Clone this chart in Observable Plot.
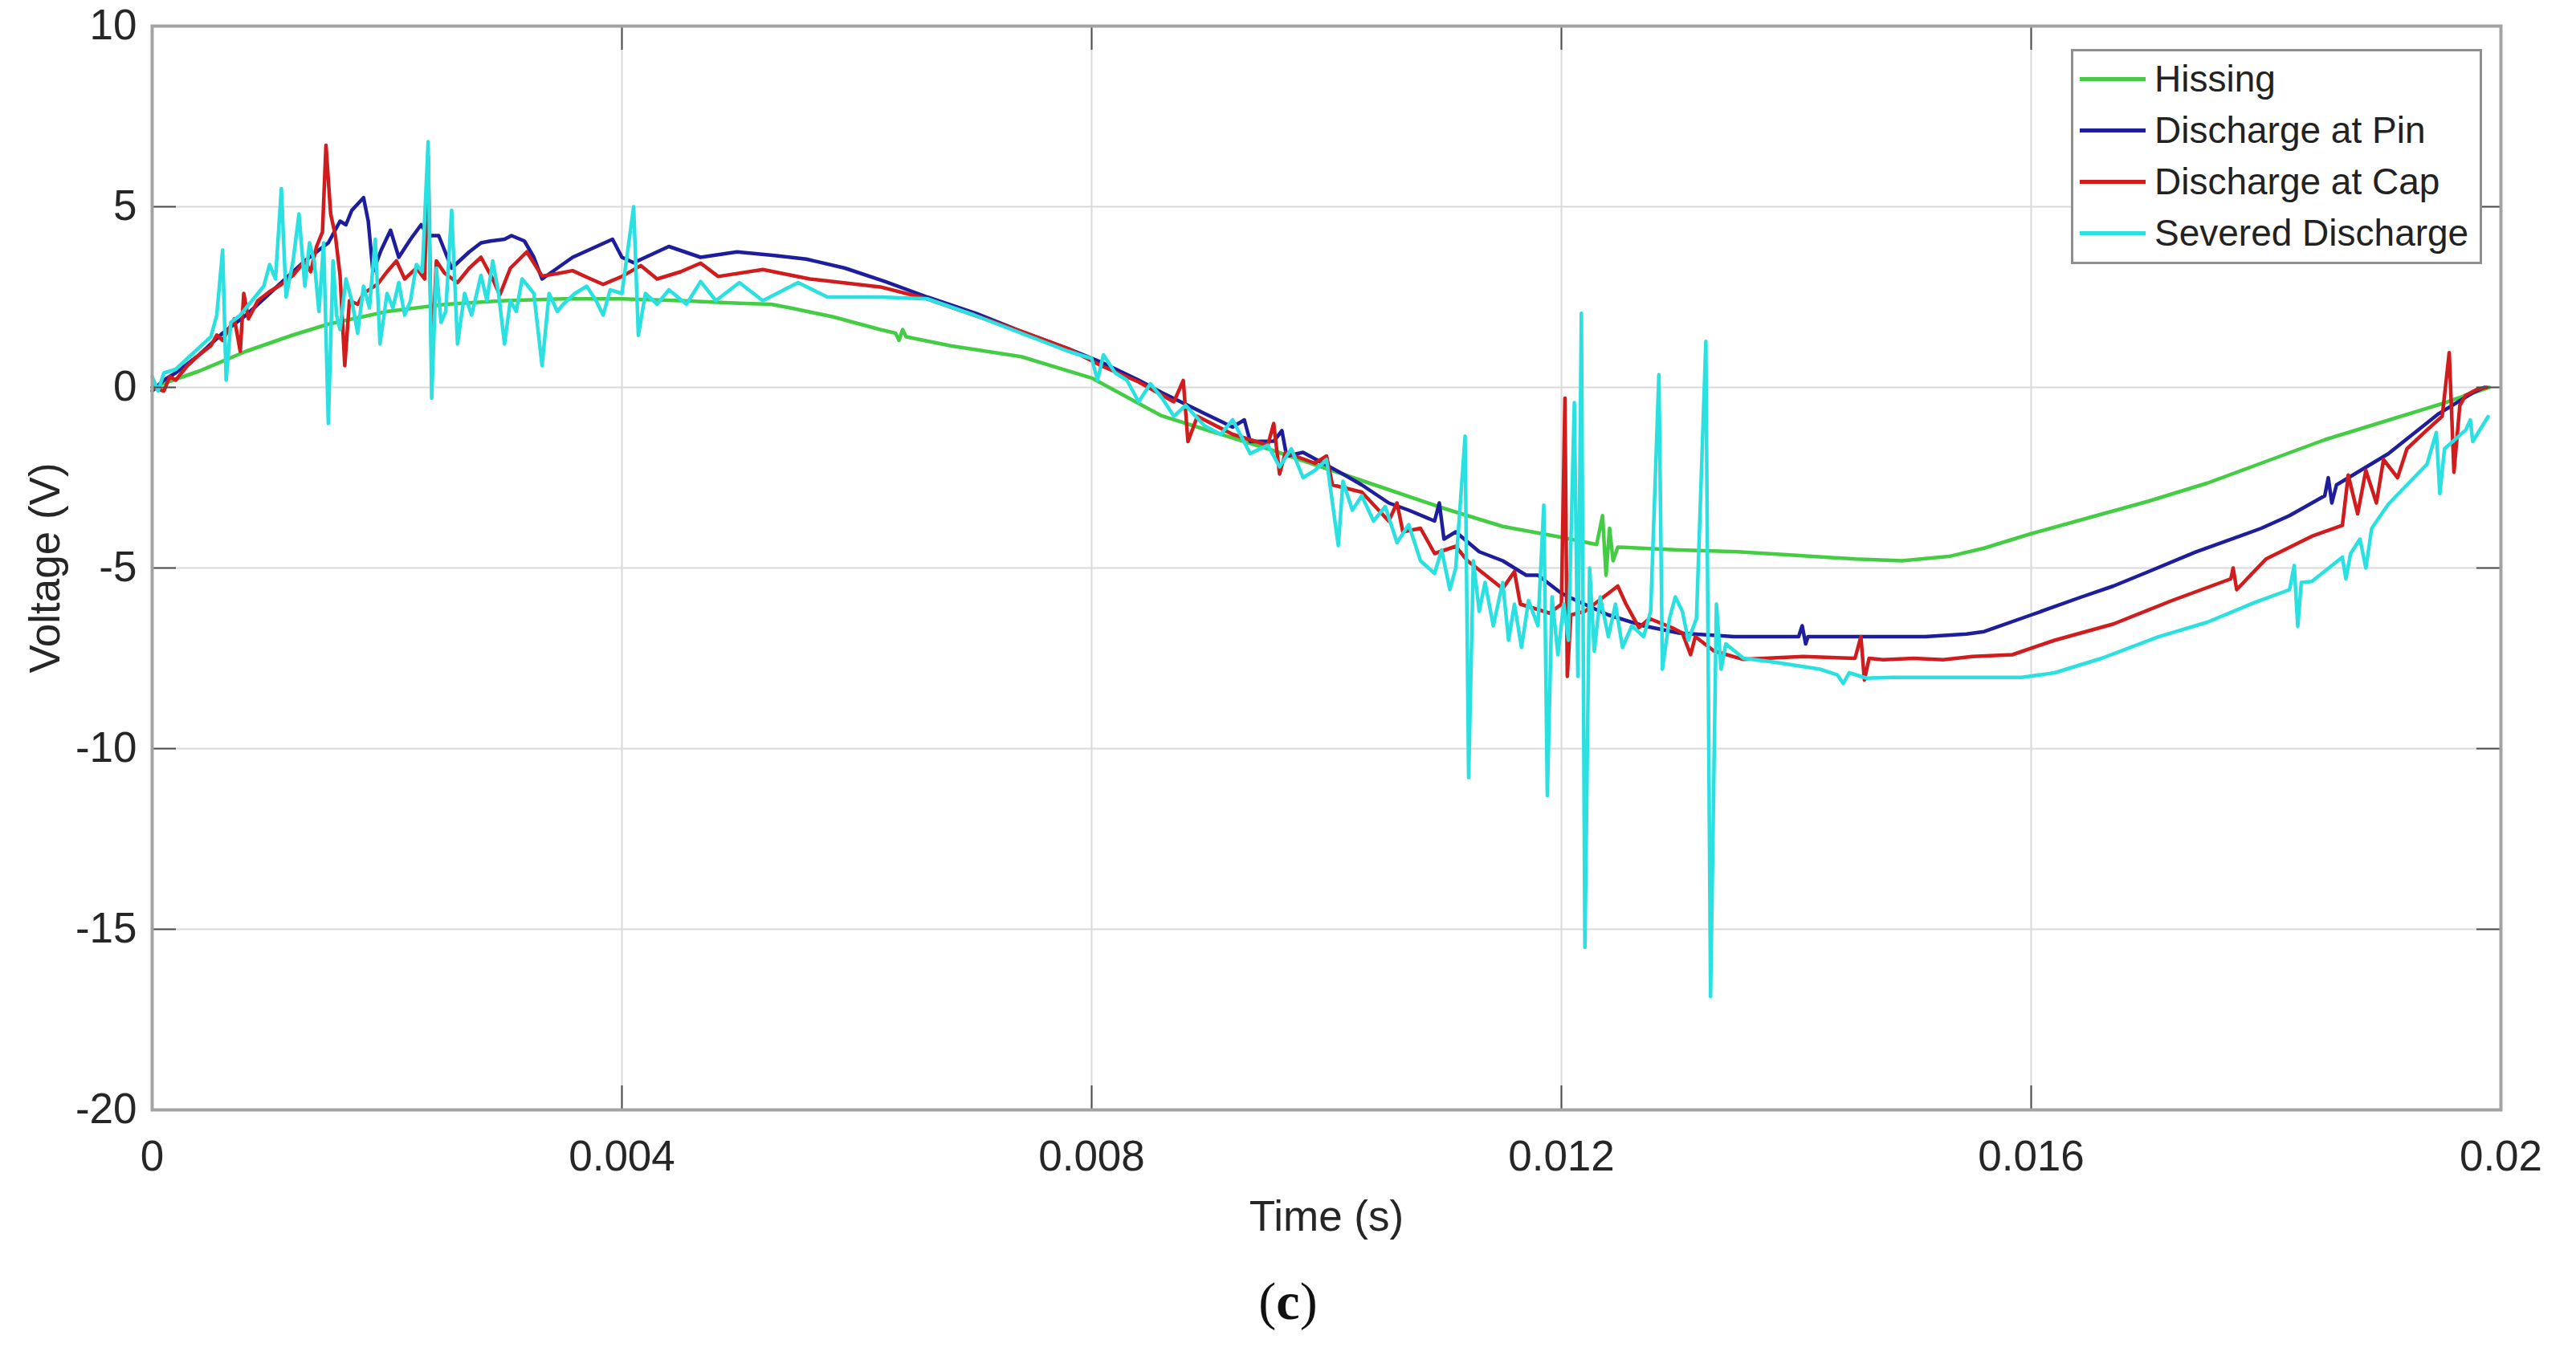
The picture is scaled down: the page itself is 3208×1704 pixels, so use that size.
<!DOCTYPE html>
<html>
<head>
<meta charset="utf-8">
<script src="https://cdn.jsdelivr.net/npm/d3@7"></script>
<script src="https://cdn.jsdelivr.net/npm/@observablehq/plot@0.6"></script>
<style>
html,body{margin:0;padding:0;background:#fff;}
#wrap{position:relative;width:3208px;height:1704px;overflow:hidden;font-family:"Liberation Sans",Arial,sans-serif;}
#legend{position:absolute;left:2579px;top:61px;width:506px;height:260px;border:3px solid #8f8f8f;background:#fff;padding-top:2px;box-sizing:content-box;}
.item{display:flex;align-items:center;height:64px;}
.sw{width:82px;height:5px;margin-left:8px;}
.lab{margin-left:11px;font-size:46px;color:#222;white-space:nowrap;line-height:1;}
#caption{position:absolute;left:0;width:3208px;top:1588px;text-align:center;font-family:"Liberation Serif","DejaVu Serif",serif;font-size:66px;line-height:66px;color:#111;}
#caption b{font-weight:bold;}
</style>
</head>
<body>
<div id="wrap">
  <div id="chart"></div>
  <div id="legend"></div>
  <div id="caption">(<b>c</b>)</div>
</div>
<script>
// ---------- data (time in ms, voltage in V) ----------
const seriesNames = ["Hissing", "Discharge at Pin", "Discharge at Cap", "Severed Discharge"];
const seriesColors = ["#45cc45", "#1e1e9c", "#d01c1c", "#2be0e0"];

const xTicks = [0, 0.004, 0.008, 0.012, 0.016, 0.02];
const xTickLabels = ["0", "0.004", "0.008", "0.012", "0.016", "0.02"];
const yTicks = [10, 5, 0, -5, -10, -15, -20];
const yTickLabels = ["10", "5", "0", "-5", "-10", "-15", "-20"];

const hissing = [
  [0,0],[0.4,0.45],[0.8,1.0],[1.2,1.45],[1.5,1.75],[2.0,2.1],[2.5,2.3],[3.0,2.4],[3.5,2.45],[4.0,2.45],
  [4.5,2.4],[5.0,2.33],[5.27,2.3],[5.45,2.19],[5.8,1.95],[6.2,1.6],[6.33,1.5],[6.36,1.3],[6.39,1.6],[6.42,1.4],
  [6.8,1.15],[7.4,0.85],[8.0,0.26],[8.59,-0.78],[9.0,-1.2],[9.5,-1.7],[10.0,-2.25],[10.5,-2.8],[11.0,-3.35],
  [11.5,-3.85],[12.0,-4.15],[12.3,-4.35],[12.35,-3.55],[12.38,-5.2],[12.41,-3.9],[12.44,-4.8],[12.48,-4.42],
  [13.0,-4.5],[13.5,-4.55],[14.0,-4.65],[14.5,-4.75],[14.9,-4.8],[15.3,-4.68],[15.6,-4.45],[16.0,-4.05],
  [16.5,-3.6],[17.0,-3.15],[17.5,-2.65],[18.0,-2.05],[18.5,-1.45],[19.0,-0.95],[19.5,-0.45],[19.9,0.0]
];

const dischargePin = [
  [0,-0.1],[0.1,0.2],[0.2,0.4],[0.3,0.65],[0.4,0.9],[0.5,1.2],[0.6,1.5],[0.7,1.75],[0.8,2.0],[0.9,2.3],
  [1.0,2.6],[1.1,2.9],[1.2,3.2],[1.3,3.5],[1.4,3.75],[1.5,4.0],[1.6,4.6],[1.65,4.5],[1.7,4.9],[1.8,5.25],
  [1.84,4.6],[1.88,3.2],[1.95,3.8],[2.03,4.35],[2.1,3.6],[2.2,4.1],[2.29,4.5],[2.35,4.2],[2.44,4.2],[2.55,3.3],
  [2.7,3.75],[2.8,4.0],[2.88,4.05],[3.0,4.1],[3.06,4.2],[3.17,4.05],[3.25,3.6],[3.32,3.0],[3.45,3.3],[3.58,3.6],
  [3.75,3.85],[3.92,4.1],[4.0,3.6],[4.1,3.45],[4.4,3.9],[4.67,3.6],[4.98,3.75],[5.3,3.65],[5.57,3.55],[5.9,3.3],
  [6.24,2.93],[6.6,2.5],[7.02,2.04],[7.4,1.55],[7.8,1.07],[8.08,0.7],[8.4,0.2],[8.6,-0.15],[8.96,-0.72],
  [9.2,-1.1],[9.3,-0.9],[9.35,-1.5],[9.55,-1.49],[9.62,-1.2],[9.66,-1.9],[9.8,-1.8],[10.14,-2.4],[10.3,-2.7],
  [10.53,-3.2],[10.7,-3.4],[10.92,-3.7],[10.96,-3.2],[11.0,-4.2],[11.1,-4.0],[11.3,-4.55],[11.5,-4.8],
  [11.7,-5.2],[11.8,-5.2],[12.0,-5.7],[12.16,-5.95],[12.4,-6.3],[12.7,-6.6],[13.0,-6.8],[13.47,-6.9],
  [14.02,-6.9],[14.05,-6.6],[14.08,-7.1],[14.1,-6.9],[14.74,-6.9],[15.1,-6.9],[15.45,-6.83],[15.6,-6.76],
  [16.0,-6.3],[16.43,-5.8],[16.7,-5.5],[17.0,-5.1],[17.4,-4.56],[17.96,-3.9],[18.2,-3.55],[18.5,-3.0],
  [18.53,-2.5],[18.56,-3.2],[18.6,-2.7],[19.04,-1.84],[19.47,-0.73],[19.76,-0.15],[19.86,0.0]
];

const dischargeCap = [
  [0,0],[0.1,-0.1],[0.15,0.3],[0.2,0.2],[0.3,0.6],[0.4,0.9],[0.5,1.15],[0.55,1.45],[0.6,1.3],[0.7,1.9],
  [0.75,1.0],[0.78,2.6],[0.82,1.9],[0.9,2.4],[1.0,2.65],[1.1,2.85],[1.2,3.1],[1.3,3.5],[1.35,3.2],[1.4,3.9],
  [1.45,4.3],[1.48,6.7],[1.52,4.8],[1.56,4.2],[1.6,3.1],[1.64,0.6],[1.68,2.4],[1.75,2.3],[1.8,2.6],[1.92,2.86],
  [2.0,3.2],[2.08,3.5],[2.15,3.0],[2.25,3.3],[2.32,3.0],[2.35,6.4],[2.38,0.6],[2.42,3.5],[2.49,3.16],[2.6,2.9],
  [2.7,3.3],[2.8,3.6],[2.9,3.0],[2.96,2.56],[3.05,3.3],[3.19,3.75],[3.32,3.08],[3.45,3.15],[3.58,3.23],
  [3.7,3.05],[3.84,2.85],[4.0,3.07],[4.16,3.37],[4.3,3.0],[4.5,3.2],[4.67,3.44],[4.82,3.07],[5.2,3.26],
  [5.6,3.0],[6.2,2.78],[6.6,2.45],[7.0,2.0],[7.4,1.55],[7.8,1.07],[8.08,0.6],[8.4,0.15],[8.7,-0.4],
  [8.78,0.19],[8.82,-1.5],[8.9,-0.8],[9.2,-1.3],[9.5,-1.6],[9.55,-1.0],[9.6,-2.4],[9.65,-1.8],[9.9,-2.1],
  [10.0,-1.9],[10.05,-2.7],[10.3,-2.9],[10.53,-3.7],[10.6,-3.2],[10.65,-4.0],[10.8,-3.9],[10.92,-4.6],
  [11.1,-4.4],[11.2,-4.8],[11.5,-5.57],[11.6,-5.1],[11.65,-6.0],[11.75,-6.1],[11.9,-6.25],[12.0,-6.0],
  [12.03,-0.3],[12.05,-8.0],[12.08,-6.3],[12.2,-6.2],[12.48,-5.5],[12.55,-6.0],[12.66,-6.65],[12.75,-6.4],
  [12.94,-6.65],[13.03,-6.8],[13.1,-7.4],[13.14,-6.9],[13.3,-7.3],[13.55,-7.53],[14.06,-7.45],[14.5,-7.5],
  [14.55,-6.9],[14.58,-8.1],[14.62,-7.5],[14.74,-7.54],[15.0,-7.5],[15.25,-7.54],[15.5,-7.45],[15.84,-7.4],
  [16.2,-7.0],[16.7,-6.55],[17.2,-5.9],[17.7,-5.3],[17.72,-5.0],[17.75,-5.6],[18.0,-4.75],[18.39,-4.12],
  [18.65,-3.82],[18.7,-2.43],[18.78,-3.5],[18.85,-2.3],[18.94,-3.2],[19.0,-2.0],[19.12,-2.5],[19.2,-1.7],
  [19.37,-1.18],[19.5,-0.8],[19.56,0.96],[19.6,-2.35],[19.65,-0.5],[19.7,-0.22],[19.8,-0.05],[19.88,0.0]
];

const severedDischarge = [
  [0,0.3],[0.05,-0.1],[0.1,0.4],[0.2,0.5],[0.3,0.8],[0.4,1.1],[0.5,1.4],[0.55,2.0],[0.6,3.8],[0.63,0.2],
  [0.67,1.8],[0.75,2.0],[0.85,2.4],[0.95,2.8],[1.0,3.4],[1.05,3.0],[1.1,5.5],[1.14,2.5],[1.2,3.5],[1.25,4.8],
  [1.3,2.8],[1.34,4.0],[1.38,3.5],[1.42,2.1],[1.46,4.0],[1.5,-1.0],[1.54,3.5],[1.57,2.0],[1.6,1.6],[1.65,3.0],
  [1.7,2.4],[1.75,1.5],[1.8,2.8],[1.85,2.2],[1.9,4.1],[1.94,1.2],[2.0,2.6],[2.05,2.2],[2.1,2.9],[2.15,2.0],
  [2.2,2.4],[2.25,3.4],[2.3,3.2],[2.35,6.8],[2.38,-0.3],[2.42,3.3],[2.46,1.8],[2.5,2.1],[2.55,4.9],[2.6,1.2],
  [2.66,2.6],[2.72,2.0],[2.8,3.1],[2.85,2.4],[2.9,3.5],[2.95,2.6],[3.0,1.2],[3.05,2.4],[3.1,2.1],[3.15,3.0],
  [3.25,2.6],[3.32,0.6],[3.38,2.6],[3.45,2.1],[3.5,2.3],[3.6,2.6],[3.7,2.8],[3.78,2.4],[3.84,2.0],[3.9,2.7],
  [4.0,2.6],[4.1,5.0],[4.14,1.44],[4.2,2.6],[4.3,2.3],[4.4,2.7],[4.55,2.3],[4.67,2.93],[4.8,2.4],[5.0,2.9],
  [5.2,2.4],[5.5,2.9],[5.75,2.5],[6.2,2.5],[6.6,2.45],[7.0,2.0],[7.4,1.5],[7.8,1.0],[8.0,0.8],[8.05,0.2],
  [8.1,0.9],[8.2,0.4],[8.3,0.2],[8.4,-0.4],[8.5,0.1],[8.6,-0.3],[8.7,-0.8],[8.8,-0.5],[8.96,-1.06],[9.1,-1.3],
  [9.2,-0.9],[9.35,-1.83],[9.5,-1.6],[9.6,-2.2],[9.7,-1.7],[9.8,-2.5],[9.9,-2.3],[10.0,-2.0],[10.1,-4.38],
  [10.14,-2.6],[10.22,-3.4],[10.3,-3.0],[10.4,-3.7],[10.5,-3.3],[10.6,-4.3],[10.7,-3.8],[10.8,-4.8],
  [10.92,-5.15],[10.98,-4.5],[11.05,-5.6],[11.1,-5.0],[11.18,-1.35],[11.21,-10.8],[11.25,-4.8],[11.3,-6.2],
  [11.35,-5.4],[11.42,-6.6],[11.5,-5.4],[11.55,-7.0],[11.6,-6.0],[11.66,-7.2],[11.72,-5.9],[11.8,-6.6],
  [11.85,-3.26],[11.88,-11.3],[11.92,-5.8],[11.97,-7.4],[12.02,-6.0],[12.06,-7.0],[12.11,-0.42],[12.14,-8.0],
  [12.17,2.05],[12.2,-15.5],[12.24,-5.0],[12.28,-7.3],[12.33,-5.8],[12.4,-6.9],[12.46,-6.0],[12.52,-7.2],
  [12.6,-6.6],[12.7,-6.9],[12.76,-6.2],[12.83,0.35],[12.86,-7.8],[12.92,-6.4],[12.97,-5.8],[13.03,-6.2],
  [13.08,-7.0],[13.15,-6.4],[13.23,1.27],[13.27,-16.86],[13.32,-6.0],[13.36,-7.8],[13.4,-7.1],[13.55,-7.5],
  [13.8,-7.6],[14.0,-7.7],[14.2,-7.8],[14.35,-7.96],[14.4,-8.2],[14.45,-7.9],[14.6,-8.05],[14.82,-8.03],
  [15.3,-8.03],[15.92,-8.03],[16.2,-7.9],[16.6,-7.5],[17.08,-6.91],[17.5,-6.5],[17.9,-5.96],[18.2,-5.6],
  [18.24,-4.93],[18.27,-6.62],[18.3,-5.4],[18.39,-5.37],[18.65,-4.7],[18.68,-5.3],[18.72,-4.6],[18.8,-4.2],
  [18.85,-5.0],[18.9,-3.9],[19.04,-3.24],[19.2,-2.7],[19.37,-2.13],[19.45,-1.25],[19.48,-2.94],[19.52,-1.7],
  [19.7,-1.18],[19.74,-0.9],[19.76,-1.5],[19.89,-0.81]
];

// ---------- build table ----------
const seriesData = [hissing, dischargePin, dischargeCap, severedDischarge];
const rows = [];
seriesData.forEach((arr, k) => {
  arr.forEach(p => rows.push({series: seriesNames[k], t: p[0] / 1000, v: p[1]}));
});

// ---------- layout ----------
const W = 3208, H = 1580;
const mL = 189, mR = 94, mT = 32, mB = H - 1382;
const frameW = W - mL - mR, frameH = H - mT - mB;
const tickLen = 30;

const chart = Plot.plot({
  width: W,
  height: H,
  marginLeft: mL, marginRight: mR, marginTop: mT, marginBottom: mB,
  style: {fontFamily: "'Liberation Sans', Arial, sans-serif", fontSize: "53px", color: "#262626", background: "#ffffff"},
  x: {domain: [0, 0.02]},
  y: {domain: [-20, 10]},
  color: {domain: seriesNames, range: seriesColors},
  marks: [
    Plot.gridX(xTicks, {stroke: "#dadada", strokeOpacity: 1, strokeWidth: 2}),
    Plot.gridY(yTicks, {stroke: "#dadada", strokeOpacity: 1, strokeWidth: 2}),
    Plot.line(rows, {x: "t", y: "v", z: "series", stroke: "series", strokeWidth: 4.5, strokeLinejoin: "round"}),
    Plot.tickX(xTicks, {x: d => d, insetTop: frameH - tickLen, stroke: "#4d4d4d", strokeWidth: 2}),
    Plot.tickX(xTicks, {x: d => d, insetBottom: frameH - tickLen, stroke: "#4d4d4d", strokeWidth: 2}),
    Plot.tickY(yTicks, {y: d => d, insetRight: frameW - tickLen, stroke: "#4d4d4d", strokeWidth: 2}),
    Plot.tickY(yTicks, {y: d => d, insetLeft: frameW - tickLen, stroke: "#4d4d4d", strokeWidth: 2}),
    Plot.frame({stroke: "#a3a3a3", strokeWidth: 4}),
    Plot.axisX(xTicks, {
      tickSize: 0, tickPadding: 38,
      tickFormat: d => xTickLabels[xTicks.indexOf(d)],
      label: "Time (s)", labelAnchor: "center", labelArrow: "none", labelOffset: 150
    }),
    Plot.axisY(yTicks, {
      tickSize: 0, tickPadding: 19,
      tickFormat: d => yTickLabels[yTicks.indexOf(d)],
      label: "Voltage (V)", labelAnchor: "center", labelArrow: "none", labelOffset: 153
    })
  ]
});
document.getElementById("chart").appendChild(chart);

// ---------- legend ----------
const legend = document.getElementById("legend");
seriesNames.forEach((name, i) => {
  const item = document.createElement("div");
  item.className = "item";
  const sw = document.createElement("div");
  sw.className = "sw";
  sw.style.background = seriesColors[i];
  const lab = document.createElement("div");
  lab.className = "lab";
  lab.textContent = name;
  item.appendChild(sw);
  item.appendChild(lab);
  legend.appendChild(item);
});
</script>
</body>
</html>
